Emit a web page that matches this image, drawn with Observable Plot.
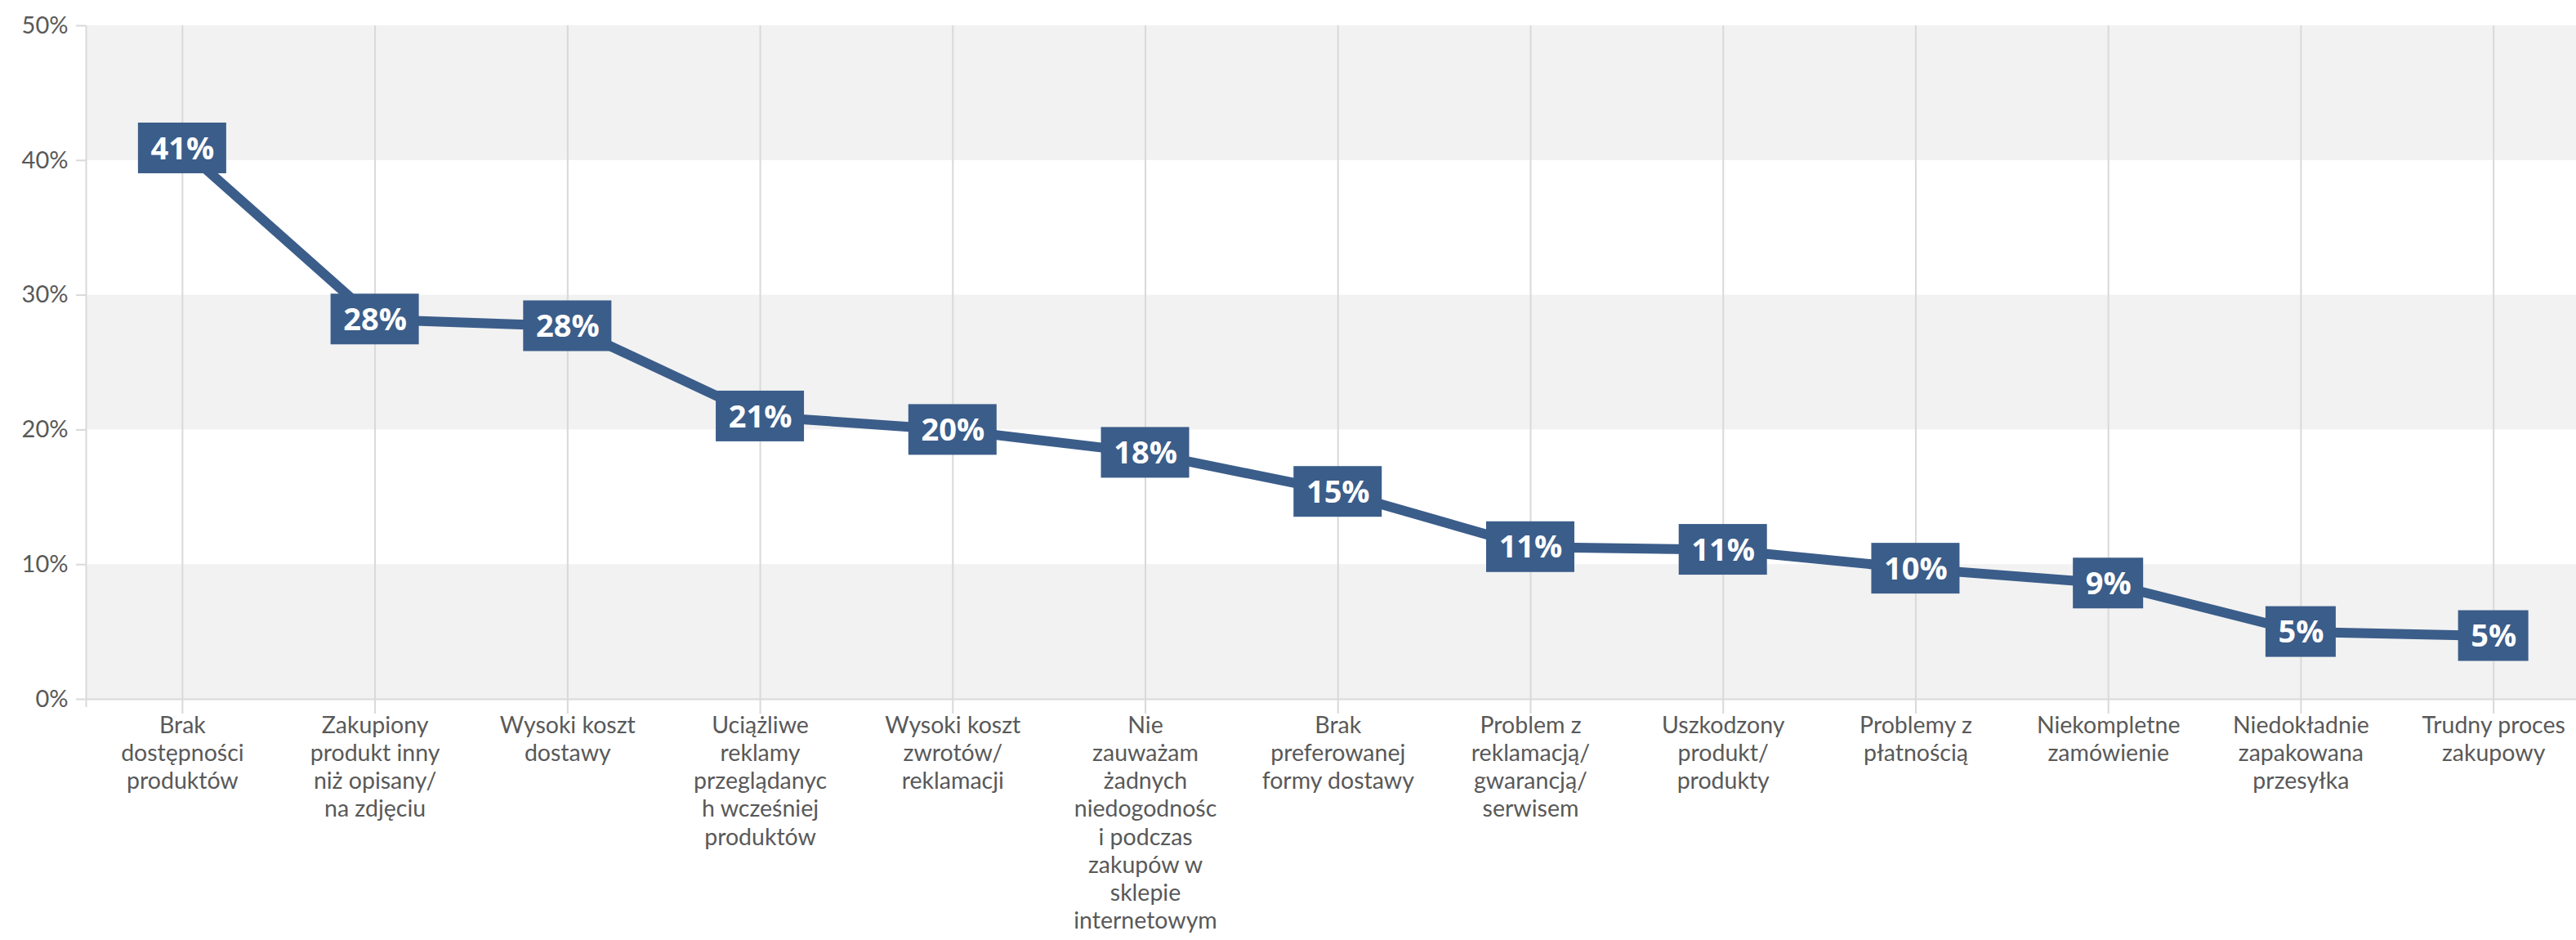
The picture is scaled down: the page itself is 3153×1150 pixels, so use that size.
<!DOCTYPE html>
<html><head><meta charset="utf-8">
<script src="https://cdn.jsdelivr.net/npm/d3@7"></script>
<script src="https://cdn.jsdelivr.net/npm/@observablehq/plot@0.6"></script>
<style>
html,body{margin:0;padding:0;background:#fff;}
#chart svg [aria-label="y-axis tick"] path, #chart svg [aria-label="y-axis"] .tick line {stroke:#d9d9d9;stroke-width:2px;}
#chart svg [aria-label="y-axis tick label"], #chart svg [aria-label="y-axis"] .tick text {fill:#595959;}
#chart svg [aria-label="y-axis"] .domain {display:none;}
</style></head><body><div id="chart"></div>
<script>
const categories = [
  "Brak dostępności produktów",
  "Zakupiony produkt inny niż opisany/ na zdjęciu",
  "Wysoki koszt dostawy",
  "Uciążliwe reklamy przeglądanych wcześniej produktów",
  "Wysoki koszt zwrotów/ reklamacji",
  "Nie zauważam żadnych niedogodności podczas zakupów w sklepie internetowym",
  "Brak preferowanej formy dostawy",
  "Problem z reklamacją/ gwarancją/ serwisem",
  "Uszkodzony produkt/ produkty",
  "Problemy z płatnością",
  "Niekompletne zamówienie",
  "Niedokładnie zapakowana przesyłka",
  "Trudny proces zakupowy"
];
const tickLabels = [
  "Brak\ndostępności\nproduktów",
  "Zakupiony\nprodukt inny\nniż opisany/\nna zdjęciu",
  "Wysoki koszt\ndostawy",
  "Uciążliwe\nreklamy\nprzeglądanyc\nh wcześniej\nproduktów",
  "Wysoki koszt\nzwrotów/\nreklamacji",
  "Nie\nzauważam\nżadnych\nniedogodnośc\ni podczas\nzakupów w\nsklepie\ninternetowym",
  "Brak\npreferowanej\nformy dostawy",
  "Problem z\nreklamacją/\ngwarancją/\nserwisem",
  "Uszkodzony\nprodukt/\nprodukty",
  "Problemy z\npłatnością",
  "Niekompletne\nzamówienie",
  "Niedokładnie\nzapakowana\nprzesyłka",
  "Trudny proces\nzakupowy"
];
const values = [40.9, 28.2, 27.7, 21.0, 20.0, 18.3, 15.4, 11.3, 11.1, 9.7, 8.6, 5.0, 4.7];
const yTicks = [0, 10, 20, 30, 40, 50];
const bandLow = [0, 20, 40];
const bandHigh = [10, 30, 50];

const data = categories.map((c, i) => ({i, category: c, value: values[i], label: Math.round(values[i]) + "%", tick: tickLabels[i]}));
const bands = bandLow.map((lo, k) => ({lo, hi: bandHigh[k]}));
const blue = "#3b5d8a";

const chart = Plot.plot({
  width: 3153,
  height: 1150,
  marginTop: 31,
  marginBottom: 295,
  marginLeft: 105,
  marginRight: 0,
  style: {fontFamily: "Lato", fontSize: "29px", color: "#595959", background: "#fff"},
  x: {type: "linear", domain: [-0.5, 12.43], axis: null},
  y: {domain: [0, 50], ticks: yTicks, tickFormat: d => d + "%", tickSize: 12, tickPadding: 10, label: null},
  marks: [
    Plot.rect(bands, {y1: "lo", y2: "hi", fill: "#f2f2f2"}),
    Plot.ruleX(data, {x: "i", stroke: "#d9d9d9", strokeWidth: 2, insetBottom: -18}),
    Plot.ruleX([-0.5], {stroke: "#d9d9d9", strokeWidth: 2, insetBottom: -10}),
    Plot.ruleY([0], {stroke: "#d9d9d9", strokeWidth: 2}),
    Plot.text(data, {x: "i", y: 0, text: "tick", lineAnchor: "top", dy: 17, fontSize: 28.5, lineHeight: 1.2, fill: "#595959", fontFamily: "Lato"}),
    Plot.line(data, {x: "i", y: "value", stroke: blue, strokeWidth: 12}),
    Plot.rect(data.filter(d => d.label.length === 3), {x1: "i", x2: "i", y1: "value", y2: "value", fill: blue, insetLeft: -54, insetRight: -54, insetTop: -31, insetBottom: -31}),
    Plot.rect(data.filter(d => d.label.length === 2), {x1: "i", x2: "i", y1: "value", y2: "value", fill: blue, insetLeft: -43, insetRight: -43, insetTop: -31, insetBottom: -31}),
    Plot.text(data, {x: "i", y: "value", text: "label", fill: "#fff", fontSize: 38, fontWeight: "bold", fontFamily: "Open Sans", dy: 1})
  ]
});
document.getElementById("chart").appendChild(chart);
</script>
</body></html>
